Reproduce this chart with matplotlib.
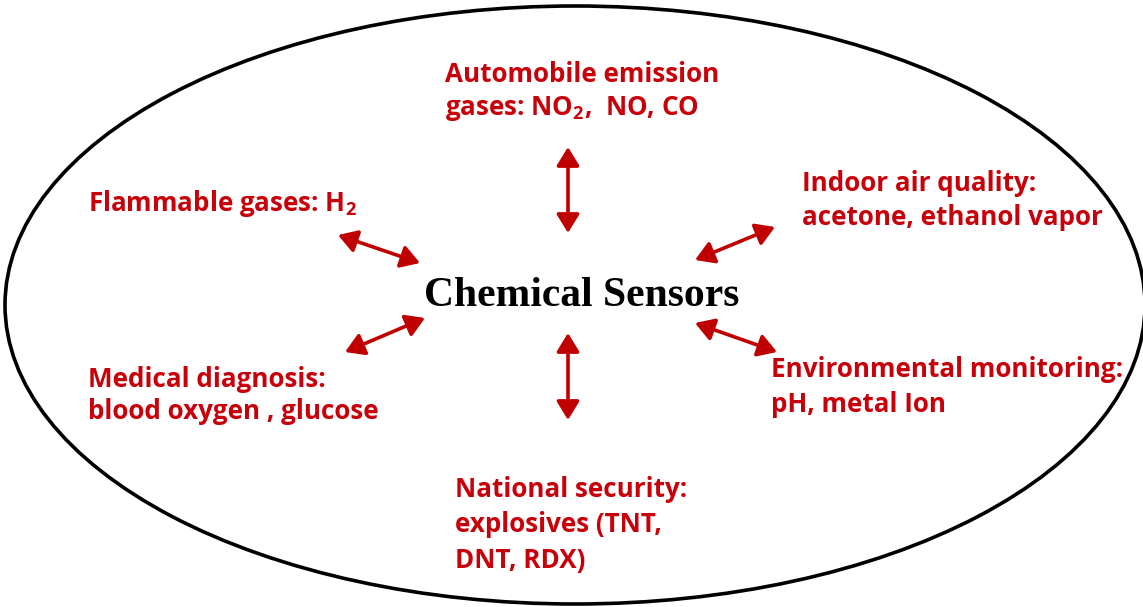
import matplotlib
matplotlib.use("Agg")
import matplotlib.pyplot as plt
from matplotlib.patches import Ellipse, FancyArrowPatch

# labels around the central node, one list entry per line
centre_label = "Chemical Sensors"
app_labels = [
    ["Automobile emission", "gases: NO$_2$,  NO, CO"],
    ["Flammable gases: H$_2$"],
    ["Indoor air quality:", "acetone, ethanol vapor"],
    ["Medical diagnosis:", "blood oxygen , glucose"],
    ["Environmental monitoring:", "pH, metal Ion"],
    ["National security:", "explosives (TNT,", "DNT, RDX)"],
]

# layout in pixel coordinates (y down): first-line baseline of each label
label_xy = [(445, 82), (88, 211), (802, 191), (88, 387), (771, 377), (455, 497)]
line_gap = [33, 34, 34, 32, 35, 35.5]
# double arrows (start, end)
arrows = [
    ((568, 147), (568, 233)),
    ((338, 235), (420, 263)),
    ((695, 260), (775, 227)),
    ((345, 352), (425, 318)),
    ((695, 323), (777, 352)),
    ((568, 333), (568, 420)),
]

red = "#c8000a"
arrow_red = "#c00000"
lab_font = "Open Sans"

plt.rcParams["mathtext.fontset"] = "custom"
plt.rcParams["mathtext.rm"] = lab_font + ":bold"
plt.rcParams["mathtext.it"] = lab_font + ":bold"
plt.rcParams["mathtext.bf"] = lab_font + ":bold"

W, H = 1143, 607
fig = plt.figure(figsize=(W / 100, H / 100), dpi=100)
ax = fig.add_axes([0, 0, 1, 1])
ax.set_xlim(0, W)
ax.set_ylim(H, 0)
ax.axis("off")

ax.add_patch(Ellipse((575, 305), 1140, 598, fill=False, ec="black", lw=2.6))

ax.text(424, 306, centre_label, family="Liberation Serif", weight="bold",
        fontsize=30, color="black", ha="left", va="baseline")

for lines, (x, y), gap in zip(app_labels, label_xy, line_gap):
    for k, line in enumerate(lines):
        ax.text(x, y + k * gap, line, family=lab_font, weight="bold", fontsize=18.7,
                color=red, ha="left", va="baseline")

for (p0, p1) in arrows:
    ax.add_patch(FancyArrowPatch(p0, p1, arrowstyle="<|-|>,head_length=0.9,head_width=0.55",
                                 mutation_scale=12.5, color=arrow_red, lw=2.6,
                                 shrinkA=0, shrinkB=0))

fig.savefig("out.png", dpi=100)
